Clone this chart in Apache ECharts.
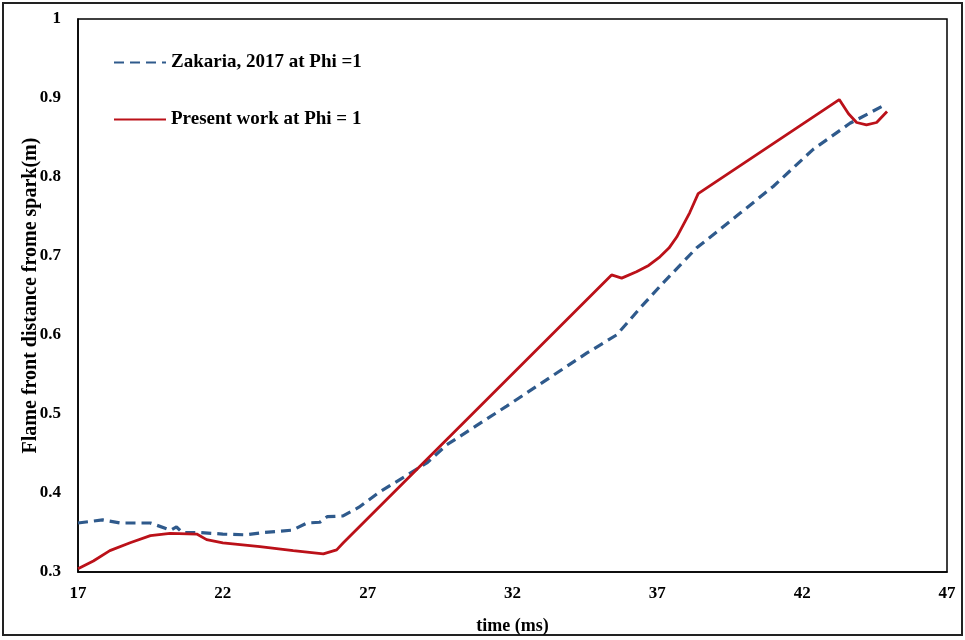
<!DOCTYPE html>
<html>
<head>
<meta charset="utf-8">
<script src="https://cdn.jsdelivr.net/npm/echarts@6/dist/echarts.min.js"></script>
<style>
  html, body { margin: 0; padding: 0; background: #fff; }
  #chart { width: 965px; height: 640px; }
</style>
</head>
<body>
<div id="chart"></div>
<script>
// Zakaria, 2017 at Phi = 1  (time ms, distance m)
const zakariaTime = [17.0, 17.85, 18.45, 19.5, 20.2, 20.4, 20.6, 21.2, 22.0, 22.8, 23.4, 24.4, 24.9, 25.35, 25.6, 26.15, 26.7, 27.4, 29.04, 29.73, 31.8, 34.56, 35.59, 36.05, 36.4, 37.2, 38.35, 39.85, 41.0, 42.38, 43.65, 44.74]
const zakariaDist = [0.362, 0.366, 0.362, 0.362, 0.353, 0.357, 0.350, 0.350, 0.348, 0.347, 0.350, 0.353, 0.362, 0.363, 0.370, 0.371, 0.382, 0.401, 0.438, 0.461, 0.510, 0.577, 0.600, 0.619, 0.634, 0.666, 0.710, 0.754, 0.788, 0.835, 0.868, 0.889]

// Present work at Phi = 1
const presentTime = [17.0, 17.53, 18.1, 18.8, 19.5, 20.18, 21.1, 21.44, 22.0, 23.28, 24.43, 25.47, 25.93, 26.16, 35.42, 35.77, 36.28, 36.7, 37.09, 37.4, 37.67, 38.12, 38.41, 43.28, 43.6, 43.88, 44.22, 44.57, 44.93]
const presentDist = [0.304, 0.314, 0.327, 0.337, 0.346, 0.349, 0.348, 0.341, 0.337, 0.332, 0.327, 0.323, 0.328, 0.337, 0.676, 0.672, 0.680, 0.688, 0.699, 0.710, 0.724, 0.755, 0.779, 0.898, 0.880, 0.869, 0.866, 0.869, 0.883]

const xTicks = { min: 17, max: 47, step: 5 }
const yTicks = { min: 0.3, max: 1, step: 0.1 }

const font = 'Liberation Serif'

function pairs(xs, ys) {
  return xs.map((x, i) => [x, ys[i]])
}

const chart = echarts.init(document.getElementById('chart'))
chart.setOption({
  animation: false,
  backgroundColor: '#fff',
  textStyle: { fontFamily: font, fontWeight: 'bold', color: '#000' },
  grid: {
    left: 78, right: 18, top: 19, bottom: 66,
    show: true, borderColor: '#000', borderWidth: 1.5
  },
  legend: {
    orient: 'vertical',
    left: 108,
    top: 48,
    itemWidth: 52,
    itemHeight: 14,
    itemGap: 38,
    itemStyle: { opacity: 0 },
    textStyle: { fontFamily: font, fontWeight: 'bold', fontSize: 19, color: '#000' },
    data: ['Zakaria, 2017 at Phi =1', 'Present work at Phi = 1']
  },
  xAxis: {
    type: 'value',
    min: xTicks.min, max: xTicks.max, interval: xTicks.step,
    name: 'time (ms)',
    nameLocation: 'middle',
    nameGap: 45,
    nameTextStyle: { fontFamily: font, fontWeight: 'bold', fontSize: 18, color: '#000' },
    axisLine: { lineStyle: { color: '#000', width: 1.5 } },
    axisTick: { show: false },
    splitLine: { show: false },
    axisLabel: { fontFamily: font, fontWeight: 'bold', fontSize: 17, color: '#000', margin: 13 }
  },
  yAxis: {
    type: 'value',
    min: yTicks.min, max: yTicks.max, interval: yTicks.step,
    name: 'Flame front distance frome spark(m)',
    nameLocation: 'middle',
    nameGap: 37,
    nameMoveOverlap: false,
    nameRotate: 90,
    nameTextStyle: { fontFamily: font, fontWeight: 'bold', fontSize: 20, color: '#000' },
    axisLine: { lineStyle: { color: '#000', width: 1.5 } },
    axisTick: { show: false },
    splitLine: { show: false },
    axisLabel: {
      fontFamily: font, fontWeight: 'bold', fontSize: 17, color: '#000', margin: 17,
      formatter: v => String(+v.toFixed(1))
    }
  },
  series: [
    {
      name: 'Zakaria, 2017 at Phi =1',
      type: 'line',
      symbol: 'none',
      data: pairs(zakariaTime, zakariaDist),
      lineStyle: { color: '#2f5a8c', width: 3.2, type: [10, 6] },
      itemStyle: { color: '#2f5a8c' }
    },
    {
      name: 'Present work at Phi = 1',
      type: 'line',
      symbol: 'none',
      data: pairs(presentTime, presentDist),
      lineStyle: { color: '#bb1119', width: 2.8 },
      itemStyle: { color: '#bb1119' }
    }
  ],
  graphic: [
    {
      type: 'rect',
      shape: { x: 3, y: 3, width: 959, height: 632 },
      style: { fill: 'none', stroke: '#222', lineWidth: 2 },
      silent: true
    }
  ]
})
</script>
</body>
</html>
